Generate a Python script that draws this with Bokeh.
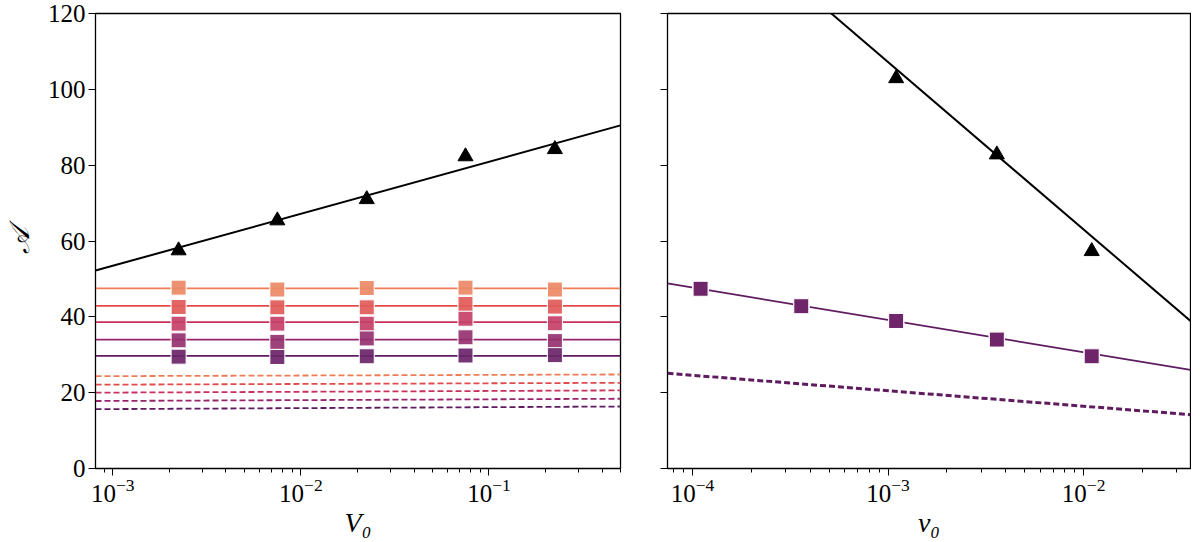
from bokeh.plotting import figure
from bokeh.layouts import row
from bokeh.models import Range1d, FixedTicker
from bokeh.embed import file_html
from bokeh.resources import INLINE

# left panel data (V0)
V0 = [2.24e-3, 7.5e-3, 2.24e-2, 7.5e-2, 0.224]
tri_left = [57.5, 65.4, 71.0, 82.3, 84.2]
fit_left_x = [8.1e-4, 0.5]
fit_left_y = [52.2, 90.5]

sq_left = [
    [47.7, 47.2, 47.6, 47.7, 47.2],
    [42.6, 42.5, 42.5, 43.4, 42.7],
    [38.2, 38.2, 38.2, 39.5, 38.3],
    [33.8, 33.4, 34.3, 34.6, 33.6],
    [29.5, 29.4, 29.6, 29.8, 29.9],
]
flat_left = [47.5, 42.9, 38.6, 34.0, 29.7]
dash_left_start = [24.35, 22.1, 20.0, 17.8, 15.65]
dash_left_end = [24.8, 22.6, 20.6, 18.4, 16.35]

# right panel data (v0)
v0 = [1.1e-4, 3.6e-4, 1.1e-3, 3.6e-3, 1.1e-2]
tri_right_x = [1.1e-3, 3.6e-3, 1.1e-2]
tri_right = [102.9, 82.8, 57.3]
fit_right_x = [7.45e-5, 3.52e-2]
fit_right_y = [157.0, 38.9]
sq_right = [
    [47.6, 43.1, 39.4, 34.5, 29.7],
    [47.5, 43.0, 39.2, 34.3, 29.6],
    [47.5, 42.9, 39.1, 34.2, 29.6],
    [47.4, 42.8, 39.0, 34.1, 29.6],
    [47.4, 42.8, 38.9, 34.0, 29.6],
]
line_right_y = [48.8, 26.0]
dash_right_y = [25.1, 14.2]

yticks = [0, 20, 40, 60, 80, 100, 120]

# light -> dark
line_colors = ["#ee7d55", "#e24a4b", "#c9305d", "#97246c", "#5e1b60"]
sq_colors = ["#ea8967", "#e05a58", "#c74068", "#953270", "#6a2468"]

FONT = "'Liberation Serif', serif"


def style(p):
    p.outline_line_color = "black"
    p.outline_line_width = 1.3
    p.grid.grid_line_color = None
    for ax in p.axis:
        ax.axis_line_color = "black"
        ax.major_tick_line_color = "black"
        ax.minor_tick_line_color = "black"
        ax.major_tick_out = 7
        ax.major_tick_in = 0
        ax.minor_tick_out = 4
        ax.minor_tick_in = 0
        ax.major_label_text_font = FONT
        ax.major_label_text_font_size = "25px"
        ax.major_label_text_color = "black"
        ax.major_label_standoff = 3
        ax.axis_label_text_font = FONT
        ax.axis_label_text_font_size = "28px"
        ax.axis_label_text_font_style = "italic"
        ax.axis_label_text_color = "black"
        ax.axis_label_standoff = 2
    p.yaxis.ticker = FixedTicker(ticks=yticks)
    p.yaxis.minor_tick_line_color = None


y_range = Range1d(0, 120)

p1 = figure(frame_width=525, frame_height=455, x_axis_type="log", x_range=Range1d(8.1e-4, 0.5),
            y_range=y_range, output_backend="svg", toolbar_location=None,
            min_border_left=89, min_border_right=18, min_border_top=13, min_border_bottom=10)
style(p1)
p1.xaxis.axis_label = "V₀"
p1.yaxis.axis_label = "𝒜"
p1.yaxis.axis_label_standoff = 10

for i in range(5):
    p1.line(fit_left_x, [flat_left[i], flat_left[i]], line_color=line_colors[i], line_width=1.8)
    p1.line(fit_left_x, [dash_left_start[i], dash_left_end[i]], line_color=line_colors[i],
            line_width=1.8, line_dash="6 3")
for i in range(5):
    p1.scatter(V0, sq_left[i], marker="square", size=15, fill_color=sq_colors[i],
               fill_alpha=0.92, line_color="white", line_width=1)
p1.line(fit_left_x, fit_left_y, line_color="black", line_width=2)
p1.scatter(V0, tri_left, marker="triangle", size=15, fill_color="black", line_color="black")

p2 = figure(frame_width=523, frame_height=455, x_axis_type="log", x_range=Range1d(7.45e-5, 3.52e-2),
            y_range=y_range, output_backend="svg", toolbar_location=None,
            min_border_left=29, min_border_right=1, min_border_top=13, min_border_bottom=10)
style(p2)
p2.xaxis.axis_label = "v₀"
p2.yaxis.major_label_overrides = {t: "" for t in yticks}

p2.line(fit_right_x, dash_right_y, line_color=line_colors[4], line_width=3, line_dash="6 3")
p2.line(fit_right_x, line_right_y, line_color=line_colors[4], line_width=1.8)
for i in range(5):
    p2.scatter(v0, sq_right[i], marker="square", size=15, fill_color=sq_colors[i],
               fill_alpha=0.92, line_color="white", line_width=1)
p2.line(fit_right_x, fit_right_y, line_color="black", line_width=2)
p2.scatter(tri_right_x, tri_right, marker="triangle", size=15, fill_color="black", line_color="black")

layout = row(p1, p2)
open("out.html", "w").write(file_html(layout, INLINE))
